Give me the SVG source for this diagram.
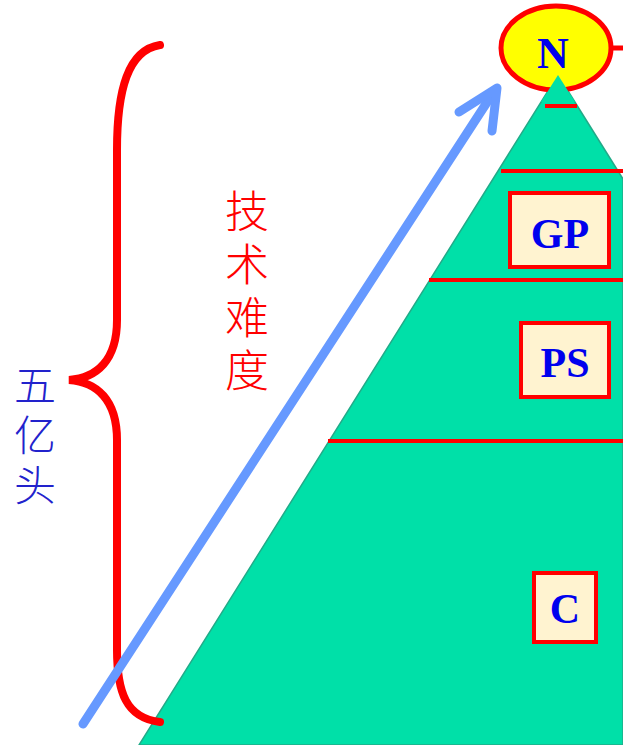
<svg xmlns="http://www.w3.org/2000/svg" width="623" height="745" viewBox="0 0 623 745">
<style>
.lvl{stroke:#FF0000;stroke-width:4;fill:none}
.box{fill:#FFF3D0;stroke:#FF0000;stroke-width:4}
.lbl{font-family:"Liberation Serif",serif;font-weight:bold;fill:#0000EE;text-anchor:middle}
.cjk{font-family:"Noto Sans CJK SC",sans-serif;font-weight:300;text-anchor:middle}
</style>
<rect width="623" height="745" fill="#FFFFFF"/>
<g id="pyramid">
<polygon points="558,75 139,745 623,745 623,179" fill="#00E0A8" stroke="#22AA88" stroke-width="1.5"/>
<line class="lvl" x1="545" y1="106" x2="577" y2="106"/>
<line class="lvl" x1="501" y1="171" x2="623" y2="171"/>
<line class="lvl" x1="429" y1="280" x2="623" y2="280"/>
<line class="lvl" x1="328" y1="441" x2="623" y2="441"/>
</g>
<g id="node-N">
<line x1="610" y1="48" x2="623" y2="48" stroke="#FF0000" stroke-width="5"/>
<ellipse cx="556" cy="48" rx="55" ry="42" fill="#FFFF00" stroke="#FF0000" stroke-width="5"/>
<polygon points="558,75 541,102 575,102" fill="#00E0A8"/>
<line class="lvl" x1="545" y1="106" x2="577" y2="106"/>
<text class="lbl" x="553" y="68" font-size="44">N</text>
</g>
<g id="node-GP">
<rect class="box" x="510" y="193" width="99" height="74"/>
<text class="lbl" x="560" y="248" font-size="42">GP</text>
</g>
<g id="node-PS">
<rect class="box" x="521" y="323" width="88" height="74"/>
<text class="lbl" x="565" y="377" font-size="42">PS</text>
</g>
<g id="node-C">
<rect class="box" x="534" y="573" width="62" height="69"/>
<text class="lbl" x="565" y="623" font-size="42">C</text>
</g>
<g id="connectors">
<path d="M160,45 C128,50 117,90 117,150 L117,320 C117,360 97,378 69,380 C97,382 117,400 117,440 L117,650 C117,692 126,718 160,722" fill="none" stroke="#FF0000" stroke-width="8" stroke-linecap="round"/>
<line x1="83" y1="724" x2="495" y2="90" stroke="#6699FF" stroke-width="9" stroke-linecap="round"/>
<polyline points="459,112 497,88 492,131" fill="none" stroke="#6699FF" stroke-width="9" stroke-linecap="round" stroke-linejoin="round"/>
</g>
<g id="label-tech" fill="#FF0000" font-size="44">
<text class="cjk" x="247" y="228">技</text>
<text class="cjk" x="247" y="281">术</text>
<text class="cjk" x="247" y="334">难</text>
<text class="cjk" x="247" y="387">度</text>
</g>
<g id="label-five" fill="#2222CC" font-size="42">
<text class="cjk" x="35" y="401">五</text>
<text class="cjk" x="35" y="451">亿</text>
<text class="cjk" x="35" y="501">头</text>
</g>
</svg>
